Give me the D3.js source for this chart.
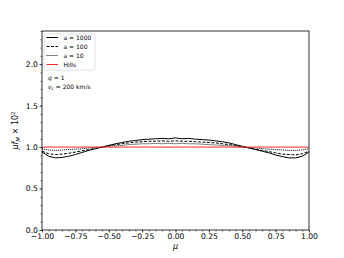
<!DOCTYPE html>
<html>
<head>
<meta charset="utf-8">
<script src="https://cdn.jsdelivr.net/npm/d3@7"></script>
<style>
  body { margin: 0; background: #fff; }
  svg { display: block; font-family: "DejaVu Sans", sans-serif; }
</style>
</head>
<body>
<div id="chart"></div>
<script>
(function () {
    'use strict';

    var mu = [-1.00, -0.95, -0.90, -0.85, -0.80, -0.75, -0.70, -0.65, -0.60, -0.55,
              -0.50, -0.45, -0.40, -0.35, -0.30, -0.25, -0.20, -0.15, -0.10, -0.05,
               0.00,  0.05,  0.10,  0.15,  0.20,  0.25,  0.30,  0.35,  0.40,  0.45,
               0.50,  0.55,  0.60,  0.65,  0.70,  0.75,  0.80,  0.85,  0.90,  0.95, 1.00];

    // a = 1000 (solid)
    var a1000 = [0.94, 0.89, 0.87, 0.875, 0.89, 0.91, 0.935, 0.96, 0.98, 1.00,
                 1.02, 1.04, 1.055, 1.07, 1.08, 1.09, 1.095, 1.10, 1.105, 1.10,
                 1.11, 1.10, 1.105, 1.095, 1.09, 1.085, 1.075, 1.065, 1.05, 1.03,
                 1.01, 0.99, 0.97, 0.95, 0.93, 0.905, 0.885, 0.87, 0.87, 0.89, 0.94];
    // a = 100 (dashed)
    var a100 = [0.95, 0.92, 0.91, 0.915, 0.925, 0.94, 0.955, 0.97, 0.985, 1.00,
                1.015, 1.03, 1.04, 1.05, 1.06, 1.065, 1.07, 1.07, 1.075, 1.07,
                1.075, 1.07, 1.07, 1.065, 1.06, 1.055, 1.05, 1.04, 1.03, 1.02,
                1.005, 0.99, 0.975, 0.96, 0.945, 0.93, 0.915, 0.91, 0.905, 0.92, 0.95];
    // a = 10 (dotted)
    var a10 = [0.98, 0.965, 0.96, 0.965, 0.97, 0.975, 0.98, 0.99, 0.995, 1.00,
               1.01, 1.015, 1.02, 1.03, 1.035, 1.04, 1.04, 1.045, 1.04, 1.045,
               1.04, 1.045, 1.04, 1.04, 1.035, 1.03, 1.025, 1.02, 1.015, 1.01,
               1.00, 0.995, 0.99, 0.98, 0.975, 0.97, 0.965, 0.96, 0.96, 0.965, 0.98];
    var hillsMu = [-1.0, 1.0];
    var hills = [1.0, 1.0];

    var xTicks = [-1.00, -0.75, -0.50, -0.25, 0.00, 0.25, 0.50, 0.75, 1.00];
    var yTicks = [0.0, 0.5, 1.0, 1.5, 2.0];

    var series = [
        { name: "a = 1000", x: mu, y: a1000, color: "#000", dash: null },
        { name: "a = 100", x: mu, y: a100, color: "#000", dash: "3,1.5" },
        { name: "a = 10", x: mu, y: a10, color: "#000", dash: "1,1" },
        { name: "Hills", x: hillsMu, y: hills, color: "#ff2a2a", dash: null }
    ];

    var width = 344, height = 258;
    var margin = { left: 42, right: 35, top: 31, bottom: 28 };

    var svg = d3.select("#chart").append("svg")
        .attr("width", width)
        .attr("height", height);

    var x = d3.scaleLinear().domain([-1, 1]).range([margin.left, width - margin.right]);
    var y = d3.scaleLinear().domain([0, 2.4]).range([height - margin.bottom, margin.top]);

    // minor ticks
    var xAxis = d3.axisBottom(x).tickValues(d3.range(-1, 1.0001, 0.05)).tickSize(1.5).tickFormat("");
    var yAxis = d3.axisLeft(y).tickValues(d3.range(0, 2.4001, 0.1)).tickSize(1.5).tickFormat("");
    svg.append("g").attr("transform", "translate(0," + y(0) + ")").call(xAxis)
        .call(function (g) { g.select(".domain").remove(); });
    svg.append("g").attr("transform", "translate(" + x(-1) + ",0)").call(yAxis)
        .call(function (g) { g.select(".domain").remove(); });

    // major ticks
    var xMajor = d3.axisBottom(x).tickValues(xTicks).tickSize(2.6).tickPadding(1)
        .tickFormat(function (d) { return d3.format(".2f")(d).replace("-", "\u2212"); });
    var yMajor = d3.axisLeft(y).tickValues(yTicks).tickSize(2.6).tickPadding(1.5)
        .tickFormat(function (d) { return d3.format(".1f")(d); });
    svg.append("g").attr("transform", "translate(0," + y(0) + ")").call(xMajor)
        .call(function (g) {
            g.select(".domain").remove();
            g.selectAll("text").attr("font-size", 7.6).attr("font-family", "DejaVu Sans").attr("fill", "#000");
        });
    svg.append("g").attr("transform", "translate(" + x(-1) + ",0)").call(yMajor)
        .call(function (g) {
            g.select(".domain").remove();
            g.selectAll("text").attr("font-size", 7.6).attr("font-family", "DejaVu Sans").attr("fill", "#000");
        });
    svg.selectAll(".tick line").attr("stroke", "#000").attr("stroke-width", 0.6);

    // lines
    var line = d3.line()
        .x(function (d) { return x(d[0]); })
        .y(function (d) { return y(d[1]); });

    series.forEach(function (s) {
        var pts = s.x.map(function (v, i) { return [v, s.y[i]]; });
        svg.append("path")
            .datum(pts)
            .attr("d", line)
            .attr("fill", "none")
            .attr("stroke", s.color)
            .attr("stroke-width", 1)
            .attr("stroke-dasharray", s.dash);
    });

    // frame
    svg.append("rect")
        .attr("x", x(-1)).attr("y", y(2.4))
        .attr("width", x(1) - x(-1)).attr("height", y(0) - y(2.4))
        .attr("fill", "none").attr("stroke", "#000").attr("stroke-width", 0.8);

    // legend
    var lg = svg.append("g").attr("transform", "translate(44,34)");
    lg.append("rect")
        .attr("width", 51).attr("height", 36).attr("rx", 1.5)
        .attr("fill", "#fff").attr("fill-opacity", 0.8)
        .attr("stroke", "#ccc").attr("stroke-width", 0.6);
    series.forEach(function (s, i) {
        var yy = 3.5 + i * 9;
        lg.append("line")
            .attr("x1", 2.5).attr("x2", 14)
            .attr("y1", yy).attr("y2", yy)
            .attr("stroke", s.color).attr("stroke-width", 1)
            .attr("stroke-dasharray", s.dash);
        lg.append("text")
            .attr("x", 19.5).attr("y", yy + 2.1)
            .attr("font-size", 6)
            .text(s.name);
    });

    // annotations
    var q = svg.append("text").attr("x", 48).attr("y", 79.5).attr("font-size", 6);
    q.append("tspan").attr("font-style", "italic").text("q");
    q.append("tspan").text(" = 1");
    var vc = svg.append("text").attr("x", 48).attr("y", 88.5).attr("font-size", 6);
    vc.append("tspan").attr("font-style", "italic").text("v");
    vc.append("tspan").attr("font-size", 4.2).attr("dy", 1).attr("font-style", "italic").text("c");
    vc.append("tspan").attr("dy", -1).text(" = 200 km/s");

    // axis labels
    svg.append("text")
        .attr("x", (x(-1) + x(1)) / 2).attr("y", 249)
        .attr("text-anchor", "middle").attr("font-size", 8).attr("font-style", "italic")
        .text("\u03bc");

    var yl = svg.append("text")
        .attr("transform", "translate(18," + (y(0) + y(2.4)) / 2 + ") rotate(-90)")
        .attr("text-anchor", "middle").attr("font-size", 8);
    yl.append("tspan").attr("font-style", "italic").text("\u03bcf");
    yl.append("tspan").attr("font-style", "italic").attr("font-size", 5.5).attr("dy", 2).text("M");
    yl.append("tspan").attr("dy", -2).text(" \u00d7 10");
    yl.append("tspan").attr("font-size", 5.5).attr("dy", -3).text("2");
})();
</script>
</body>
</html>
